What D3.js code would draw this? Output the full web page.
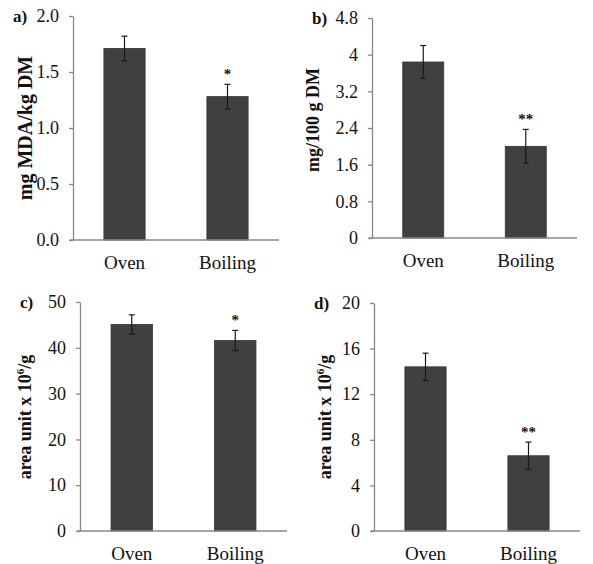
<!DOCTYPE html>
<html>
  <head>
    <meta charset="utf-8" />
    <style>
      body {
        margin: 0;
        background: #fff;
      }
      svg text {
        font-family: "Liberation Serif", "Times New Roman", serif;
        fill: #111;
      }
    </style>
    <script src="https://d3js.org/d3.v7.min.js"></script>
  </head>
  <body>
    <div id="chart"></div>
    <script type="text/javascript">
      // data
      var categories = ["Oven", "Boiling"];

      var mdaMeans = [1.71, 1.28];
      var mdaErr = [0.11, 0.11];
      var mdaStars = ["", "*"];
      var mdaTicks = [0, 0.5, 1.0, 1.5, 2.0];

      var bMeans = [3.84, 2.0];
      var bErr = [0.36, 0.37];
      var bStars = ["", "**"];
      var bTicks = [0, 0.8, 1.6, 2.4, 3.2, 4, 4.8];

      var cMeans = [45.1, 41.6];
      var cErr = [2.1, 2.2];
      var cStars = ["", "*"];
      var cTicks = [0, 10, 20, 30, 40, 50];

      var dMeans = [14.4, 6.6];
      var dErr = [1.2, 1.2];
      var dStars = ["", "**"];
      var dTicks = [0, 4, 8, 12, 16, 20];

      var w = 593;
      var h = 564;

      var svg = d3
        .select("#chart")
        .append("svg")
        .attr("width", w)
        .attr("height", h);

      var panels = [
        {
          tag: "a)", means: mdaMeans, err: mdaErr, stars: mdaStars, ticks: mdaTicks,
          fmt: d3.format(".1f"), title: ["mg MDA/kg DM"], titleSize: 20,
          left: 73, right: 279, top: 16, bottom: 240, titleX: 25, titleY: 128
        },
        {
          tag: "b)", means: bMeans, err: bErr, stars: bStars, ticks: bTicks,
          fmt: function (d) { return String(d); }, title: ["mg/100 g DM"], titleSize: 18,
          left: 372, right: 577, top: 18, bottom: 238, titleX: 313, titleY: 120
        },
        {
          tag: "c)", means: cMeans, err: cErr, stars: cStars, ticks: cTicks,
          fmt: d3.format("d"), title: ["area unit x 10", "6", "/g"], titleSize: 18,
          left: 80, right: 287, top: 302, bottom: 531, titleX: 25, titleY: 417
        },
        {
          tag: "d)", means: dMeans, err: dErr, stars: dStars, ticks: dTicks,
          fmt: d3.format("d"), title: ["area unit x 10", "6", "/g"], titleSize: 18,
          left: 374, right: 580, top: 303, bottom: 531, titleX: 325, titleY: 417
        }
      ];

      panels.forEach(drawPanel);

      function drawPanel(p) {
        var g = svg.append("g");
        var ticks = p.ticks;

        var x = d3
          .scaleBand()
          .domain(categories)
          .range([p.left, p.right])
          .paddingInner(0.6)
          .paddingOuter(0.3);

        var y = d3
          .scaleLinear()
          .domain([0, ticks[ticks.length - 1]])
          .range([p.bottom, p.top]);

        // bars
        g.selectAll("rect")
          .data(p.means)
          .enter()
          .append("rect")
          .attr("x", function (d, i) { return x(categories[i]); })
          .attr("width", x.bandwidth())
          .attr("y", function (d) { return y(d); })
          .attr("height", function (d) { return y(0) - y(d); })
          .attr("fill", "#404040")
          .attr("stroke", "#333")
          .attr("stroke-width", 0.8);

        // error bars
        var eb = g.selectAll(".err")
          .data(p.means)
          .enter()
          .append("g")
          .attr("class", "err")
          .attr("stroke", "#1a1a1a")
          .attr("stroke-width", 1.2);

        eb.append("line")
          .attr("x1", function (d, i) { return x(categories[i]) + x.bandwidth() / 2; })
          .attr("x2", function (d, i) { return x(categories[i]) + x.bandwidth() / 2; })
          .attr("y1", function (d, i) { return y(d + p.err[i]); })
          .attr("y2", function (d, i) { return y(d - p.err[i]); });

        [1, -1].forEach(function (s) {
          eb.append("line")
            .attr("x1", function (d, i) { return x(categories[i]) + x.bandwidth() / 2 - 3; })
            .attr("x2", function (d, i) { return x(categories[i]) + x.bandwidth() / 2 + 3; })
            .attr("y1", function (d, i) { return y(d + s * p.err[i]); })
            .attr("y2", function (d, i) { return y(d + s * p.err[i]); });
        });

        // significance marks
        g.selectAll(".star")
          .data(p.means)
          .enter()
          .append("text")
          .attr("class", "star")
          .attr("x", function (d, i) { return x(categories[i]) + x.bandwidth() / 2; })
          .attr("y", function (d, i) { return y(d + p.err[i]) - 5; })
          .attr("text-anchor", "middle")
          .attr("font-size", 15)
          .attr("font-weight", "bold")
          .text(function (d, i) { return p.stars[i]; });

        // y axis
        var yAxis = g.append("g")
          .attr("transform", "translate(" + p.left + ",0)")
          .call(
            d3.axisLeft(y)
              .tickValues(ticks)
              .tickFormat(p.fmt)
              .tickSize(4)
              .tickSizeOuter(0)
              .tickPadding(10)
          );
        yAxis.selectAll("path, line").attr("stroke", "#888").attr("stroke-width", 1.3);
        yAxis.selectAll("text")
          .attr("font-size", 18)
          .attr("font-family", "Liberation Serif")
          .attr("fill", "#111");

        // x axis
        var xAxis = g.append("g")
          .attr("transform", "translate(0," + p.bottom + ")")
          .call(d3.axisBottom(x).tickSize(0).tickPadding(16));
        xAxis.select(".domain")
          .attr("d", "M" + (p.left - 3) + ",0H" + p.right)
          .attr("stroke", "#888")
          .attr("stroke-width", 1.3);
        xAxis.selectAll("text")
          .attr("font-size", 19)
          .attr("font-family", "Liberation Serif")
          .attr("fill", "#111");

        // panel tag
        g.append("text")
          .attr("x", p.left - 60)
          .attr("y", p.top + 6)
          .attr("font-size", 17)
          .attr("font-weight", "bold")
          .text(p.tag);

        // y title
        var t = g.append("text")
          .attr("transform", "translate(" + p.titleX + "," + p.titleY + ") rotate(-90)")
          .attr("text-anchor", "middle")
          .attr("dy", "0.35em")
          .attr("font-size", p.titleSize)
          .attr("font-weight", "bold");
        t.append("tspan").text(p.title[0]);
        if (p.title.length > 1) {
          t.append("tspan").attr("font-size", 11).attr("dy", -7).text(p.title[1]);
          t.append("tspan").attr("dy", 7).text(p.title[2]);
        }
      }
    </script>
  </body>
</html>
